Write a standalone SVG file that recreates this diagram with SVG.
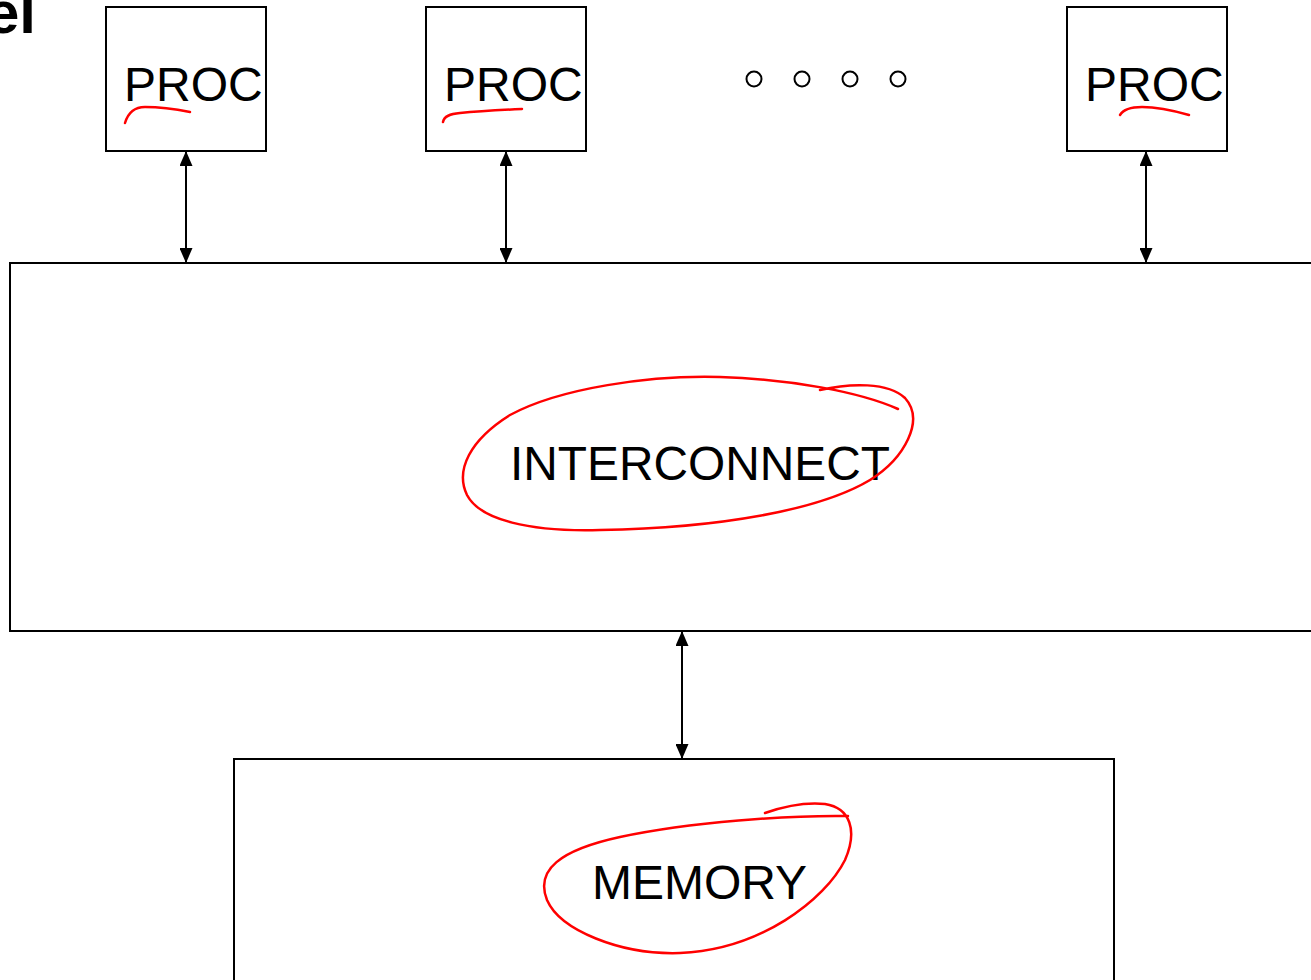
<svg xmlns="http://www.w3.org/2000/svg" width="1311" height="980" viewBox="0 0 1311 980">
  <style>
    .box { fill: #fff; stroke: #000; stroke-width: 2; }
    .lbl { font-family: "Liberation Sans", Arial, sans-serif; font-size: 48px; fill: #000; }
    .title { font-family: "Liberation Sans", Arial, sans-serif; font-size: 60px; font-weight: bold; fill: #000; }
    .link { stroke: #000; stroke-width: 2; fill: none; marker-start: url(#head); marker-end: url(#head); }
    .ink { fill: none; stroke: #f00; stroke-width: 2.5; stroke-linecap: round; stroke-linejoin: round; }
    .dot { fill: #fff; stroke: #000; stroke-width: 2; }
  </style>
  <defs>
    <marker id="head" viewBox="0 0 15 13" refX="15" refY="6.5" markerWidth="15" markerHeight="13" markerUnits="userSpaceOnUse" orient="auto-start-reverse">
      <path d="M0,0 L15,6.5 L0,13 Z" fill="#000"/>
    </marker>
  </defs>
  <rect width="1311" height="980" fill="#fff"/>

  <!-- title fragment, left edge of the slide -->
  <text class="title" x="36" y="33" text-anchor="end">el</text>

  <g id="proc1">
    <rect class="box" x="106" y="7" width="160" height="144"/>
    <text class="lbl" x="124" y="101">PROC</text>
    <path class="ink" d="M125,123 C128,113 135,107 145,107 C160,107 175,109 190,112"/>
  </g>
  <g id="proc2">
    <rect class="box" x="426" y="7" width="160" height="144"/>
    <text class="lbl" x="444" y="101">PROC</text>
    <path class="ink" d="M443,122 C444,116 450,114 460,113 C480,111 500,110 522,109"/>
  </g>
  <g id="ellipsis">
    <circle class="dot" cx="754" cy="79" r="7.5"/>
    <circle class="dot" cx="802" cy="79" r="7.5"/>
    <circle class="dot" cx="850" cy="79" r="7.5"/>
    <circle class="dot" cx="898" cy="79" r="7.5"/>
  </g>
  <g id="proc3">
    <rect class="box" x="1067" y="7" width="160" height="144"/>
    <text class="lbl" x="1085" y="101">PROC</text>
    <path class="ink" d="M1120,115 C1123,110 1130,107 1142,107 C1160,107 1175,111 1189,115"/>
  </g>

  <g id="interconnect">
    <rect class="box" x="10" y="263" width="1320" height="368"/>
    <text class="lbl" x="510" y="480" textLength="380" lengthAdjust="spacingAndGlyphs">INTERCONNECT</text>
    <path class="ink" d="M820,390 C850,383 888,382 905,398 C925,420 905,458 870,480 C820,510 720,528 600,530 C530,532 480,520 467,495 C455,470 470,440 510,415 C560,388 650,375 720,377 C790,379 860,392 898,409"/>
  </g>

  <g id="memory">
    <rect class="box" x="234" y="759" width="880" height="240"/>
    <text class="lbl" x="592" y="899">MEMORY</text>
    <path class="ink" d="M765,813 C785,806 805,802 825,804 C850,808 858,830 845,860 C825,900 760,950 680,953 C620,955 560,930 547,900 C535,870 560,850 620,837 C690,822 790,815 848,816"/>
  </g>

  <g id="connectors">
    <line class="link" x1="186" y1="151" x2="186" y2="263"/>
    <line class="link" x1="506" y1="151" x2="506" y2="263"/>
    <line class="link" x1="1146" y1="151" x2="1146" y2="263"/>
    <line class="link" x1="682" y1="631" x2="682" y2="759"/>
  </g>
</svg>
